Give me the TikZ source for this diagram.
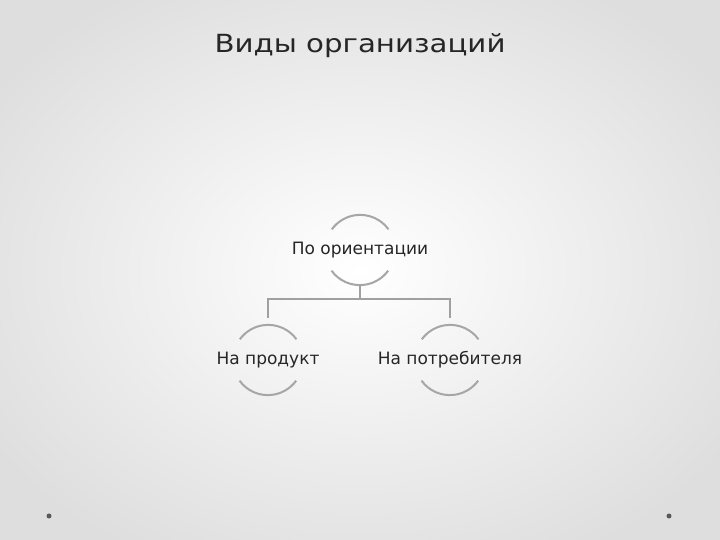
\documentclass[tikz,border=0pt]{standalone}
\usepackage{fontspec}
\setmainfont{DejaVu Sans}
\newfontfamily\titlefont{DejaVu Sans}[FakeStretch=1.17]
\usetikzlibrary{shapes.geometric}
\definecolor{arcgray}{HTML}{A6A6A6}
\definecolor{linegray}{HTML}{A0A0A0}
\definecolor{txt}{HTML}{262626}
\begin{document}
\begin{tikzpicture}[x=1pt,y=1pt,
  orgnode/.style={circle,minimum size=70pt,inner sep=0pt,
    label={[text=txt,font=\fontsize{17}{20}\selectfont]center:#1}},
  arcline/.style={draw=arcgray,line width=2pt},
  conn/.style={draw=linegray,line width=1.3pt},
  dot/.style={circle,fill=black!65,inner sep=0pt,minimum size=5pt}]
\useasboundingbox (0,0) rectangle (720,540);
\shade[inner color=white,outer color=black!13] (-80,-60) rectangle (800,600);
\node[text=txt,font=\titlefont\fontsize{25}{30}\selectfont] (title) at (360,494) {Виды организаций};
\node[orgnode={По ориентации}] (root) at (360,290) {};
\node[orgnode={На продукт}] (left) at (268,180) {};
\node[orgnode={На потребителя}] (right) at (450,180) {};
\foreach \n in {root,left,right}{
  \draw[arcline] (\n.36) arc[start angle=36,end angle=144,radius=35pt];
  \draw[arcline] (\n.216) arc[start angle=216,end angle=324,radius=35pt];
}
\coordinate (bus) at (360,241);
\draw[conn] (root.south) -- (bus);
\draw[conn] ([yshift=7pt]left.north) -- (left.north |- bus) -- (right.north |- bus) -- ([yshift=7pt]right.north);
\node[dot] (d1) at (49,24) {};
\node[dot] (d2) at (669,24) {};
\end{tikzpicture}
\end{document}
